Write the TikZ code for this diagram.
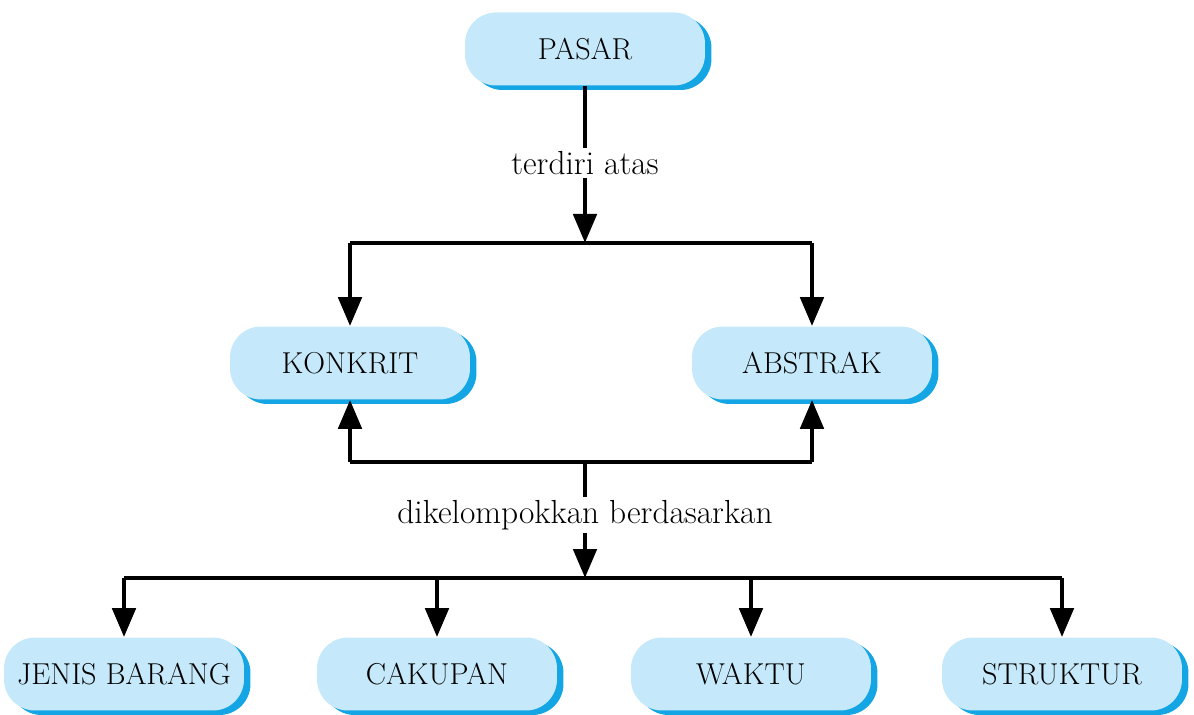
\documentclass[tikz,border=0pt]{standalone}
\usetikzlibrary{arrows.meta, shadows}

\definecolor{boxfill}{RGB}{197,233,250}
\definecolor{boxshadow}{RGB}{20,165,228}

\tikzset{
  concept/.style={rectangle, rounded corners=0.62cm, fill=boxfill,
    minimum width=4.8cm, minimum height=1.46cm, inner sep=0pt,
    font=\fontsize{17.2}{20}\selectfont,
    drop shadow={shadow xshift=0.13cm, shadow yshift=-0.09cm, fill=boxshadow, opacity=1}},
  link/.style={line width=2.8pt, -{Triangle[length=0.58cm, width=0.46cm]}},
  plain/.style={line width=2.8pt},
  linklabel/.style={fill=white, inner sep=2pt, font=\fontsize{19}{22}\selectfont}
}

\begin{document}
\begin{tikzpicture}[x=0.02cm, y=-0.02cm]
\useasboundingbox (0,0) rectangle (1194,715);

% nodes
\node[concept] (pasar) at (585,49) {PASAR};
\node[concept] (konkrit) at (350,363) {KONKRIT};
\node[concept] (abstrak) at (812,363) {ABSTRAK};
\node[concept] (jenis) at (124,674) {JENIS BARANG};
\node[concept] (cakupan) at (437,674) {CAKUPAN};
\node[concept] (waktu) at (751,674) {WAKTU};
\node[concept] (struktur) at (1062,674) {STRUKTUR};

% junctions
\coordinate (split1) at (585,243);
\coordinate (join1) at (585,462);
\coordinate (split2) at (585,578);

% pasar -> konkrit / abstrak
\draw[link] (pasar.south) -- (split1);
\draw[plain] (konkrit.north |- split1) -- (abstrak.north |- split1);
\draw[link] (konkrit.north |- split1) -- (konkrit.north);
\draw[link] (abstrak.north |- split1) -- (abstrak.north);
\node[linklabel] (terdiri) at (585,163) {terdiri atas};

% konkrit / abstrak -> groups
\draw[plain] (konkrit.south |- join1) -- (abstrak.south |- join1);
\draw[link] (konkrit.south |- join1) -- (konkrit.south);
\draw[link] (abstrak.south |- join1) -- (abstrak.south);
\draw[link] (join1) -- (split2);
\node[linklabel] (dikelompokkan) at (585,515) {dikelompokkan berdasarkan};

\draw[plain] (jenis.north |- split2) -- (struktur.north |- split2);
\foreach \n in {jenis, cakupan, waktu, struktur}
  \draw[link] (\n.north |- split2) -- (\n.north);
\end{tikzpicture}
\end{document}
